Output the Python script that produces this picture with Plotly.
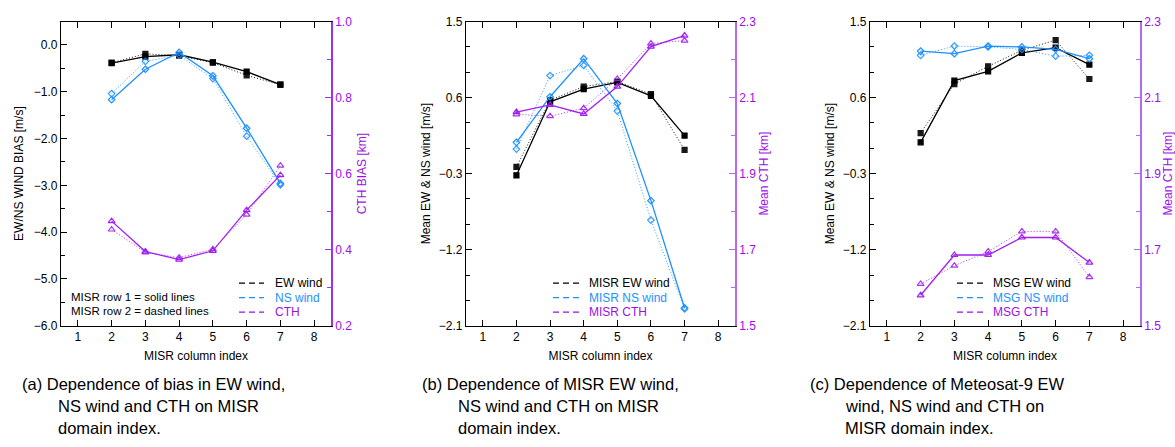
import plotly.graph_objects as go

# ---------------- data ----------------
columns = [2, 3, 4, 5, 6, 7]

a_ew_row1 = [-0.39, -0.25, -0.21, -0.37, -0.57, -0.85]
a_ew_row2 = [-0.38, -0.19, -0.23, -0.38, -0.65, -0.85]
a_ns_row1 = [-1.17, -0.52, -0.16, -0.66, -1.78, -2.96]
a_ns_row2 = [-1.04, -0.35, -0.22, -0.72, -1.95, -2.99]
a_cth_row1 = [0.475, 0.395, 0.374, 0.397, 0.504, 0.596]
a_cth_row2 = [0.453, 0.393, 0.379, 0.401, 0.492, 0.621]

b_ew_row1 = [-0.32, 0.55, 0.70, 0.78, 0.62, 0.15]
b_ew_row2 = [-0.22, 0.57, 0.73, 0.79, 0.64, -0.02]
b_ns_row1 = [0.07, 0.61, 1.06, 0.53, -0.62, -1.89]
b_ns_row2 = [-0.01, 0.86, 0.98, 0.44, -0.85, -1.90]
b_cth_row1 = [2.062, 2.081, 2.057, 2.129, 2.234, 2.263]
b_cth_row2 = [2.056, 2.051, 2.072, 2.149, 2.242, 2.250]

c_ew_row1 = [0.07, 0.80, 0.91, 1.13, 1.19, 0.99]
c_ew_row2 = [0.18, 0.76, 0.97, 1.16, 1.28, 0.82]
c_ns_row1 = [1.15, 1.12, 1.21, 1.20, 1.17, 1.06]
c_ns_row2 = [1.10, 1.21, 1.20, 1.17, 1.09, 1.10]
c_cth_row1 = [1.580, 1.686, 1.686, 1.732, 1.732, 1.666]
c_cth_row2 = [1.610, 1.658, 1.695, 1.748, 1.748, 1.628]

x_ticks = [1, 2, 3, 4, 5, 6, 7, 8]

legend_a = ["EW wind", "NS wind", "CTH"]
legend_b = ["MISR EW wind", "MISR NS wind", "MISR CTH"]
legend_c = ["MSG EW wind", "MSG NS wind", "MSG CTH"]

captions = [
    ["(a) Dependence of bias in EW wind,", "NS wind and CTH on MISR", "domain index."],
    ["(b) Dependence of MISR EW wind,", "NS wind and CTH on MISR", "domain index."],
    ["(c) Dependence of Meteosat-9 EW", "wind, NS wind and CTH on", "MISR domain index."],
]

# ---------------- style ----------------
W, H = 1175, 447
BLACK = "#000000"
BLUE = "#1E90FF"
PURPLE = "#A020F0"
PURPLE_TXT = "#9B10E6"
FONT = "Liberation Sans, Arial, sans-serif"
CAP_FONT = "Liberation Sans, Arial, sans-serif"
FS = 12

def px_x(p):
    return p / W

def px_y(p):
    return 1 - p / H

panels = [
    dict(x0=61, x1=331, xa="x", ya="y", ya2="y2",
         ew=(a_ew_row1, a_ew_row2), ns=(a_ns_row1, a_ns_row2), cth=(a_cth_row1, a_cth_row2),
         legend=legend_a, leg_x=(239, 264, 273)),
    dict(x0=466, x1=735, xa="x2", ya="y3", ya2="y4",
         ew=(b_ew_row1, b_ew_row2), ns=(b_ns_row1, b_ns_row2), cth=(b_cth_row1, b_cth_row2),
         legend=legend_b, leg_x=(553, 579, 587)),
    dict(x0=870, x1=1140, xa="x3", ya="y5", ya2="y6",
         ew=(c_ew_row1, c_ew_row2), ns=(c_ns_row1, c_ns_row2), cth=(c_cth_row1, c_cth_row2),
         legend=legend_c, leg_x=(957, 983, 991)),
]

fig = go.Figure()
shapes = []
annotations = []
leg_y = [285, 300, 315]

for p in panels:
    specs = [
        ("ew", BLACK, "square", 5, p["ya"]),
        ("ns", BLUE, "diamond-open", 5, p["ya"]),
        ("cth", PURPLE, "triangle-up-open", 6, p["ya2"]),
    ]
    for key, col, sym, ms, yref in specs:
        r1, r2 = p[key]
        fig.add_trace(go.Scatter(
            x=columns, y=r1, mode="lines+markers", xaxis=p["xa"], yaxis=yref,
            line=dict(color=col, width=1.3),
            marker=dict(symbol=sym, size=ms, color=col, line=dict(color=col, width=1.2)),
            showlegend=False))
        fig.add_trace(go.Scatter(
            x=columns, y=r2, mode="lines+markers", xaxis=p["xa"], yaxis=yref,
            line=dict(color=col, width=1, dash="1px,2px"),
            marker=dict(symbol=sym, size=ms, color=col, line=dict(color=col, width=1.2)),
            opacity=0.9, showlegend=False))
    # legend keys (decoration)
    lx0, lx1, tx = p["leg_x"]
    for name, col, ly in zip(p["legend"], [BLACK, BLUE, PURPLE_TXT], leg_y):
        shapes.append(dict(type="line", xref="paper", yref="paper",
                           x0=px_x(lx0), x1=px_x(lx1), y0=px_y(ly), y1=px_y(ly),
                           line=dict(color=col, width=1.2, dash="6px,4px")))
        annotations.append(dict(text=name, x=px_x(tx), y=px_y(ly), xref="paper", yref="paper",
                                xanchor="left", yanchor="middle", showarrow=False,
                                font=dict(family=FONT, size=FS, color=col)))

ydom = [px_y(329), px_y(15)]

common_x = dict(range=[0.5, 8.5], tickvals=x_ticks, ticks="inside", ticklen=6,
                tickcolor=BLACK, showline=True, linecolor=BLACK, linewidth=1.3,
                mirror="ticks", showgrid=False, zeroline=False,
                tickfont=dict(family=FONT, size=FS, color=BLACK),
                title=dict(text="MISR column index", font=dict(family=FONT, size=FS, color=BLACK),
                           standoff=8))

layout = dict(
    width=W, height=H, margin=dict(l=0, r=0, t=0, b=0),
    paper_bgcolor="white", plot_bgcolor="white",
    font=dict(family=FONT, size=FS, color=BLACK),
    showlegend=False,
)

for i, p in enumerate(panels):
    xname = "xaxis" if i == 0 else f"xaxis{i + 1}"
    layout[xname] = dict(common_x, domain=[px_x(p["x0"]), px_x(p["x1"])], anchor=p["ya"])

left_common = dict(domain=ydom, ticks="inside", ticklen=6, tickcolor=BLACK,
                   showline=True, linecolor=BLACK, linewidth=1.3, showgrid=False,
                   zeroline=False, tickformat=".1f",
                   tickfont=dict(family=FONT, size=FS, color=BLACK))
right_common = dict(domain=ydom, ticks="inside", ticklen=6, side="right",
                    showline=True, linewidth=1.5, showgrid=False, zeroline=False,
                    tickformat=".1f")

layout["yaxis"] = dict(left_common, anchor="x", range=[-6.0, 0.5], tick0=0, dtick=1.0,
                       minor=dict(ticks="inside", ticklen=4, dtick=0.5, tick0=0, tickcolor=BLACK),
                       title=dict(text="EW/NS WIND BIAS [m/s]", font=dict(size=FS), standoff=7))
layout["yaxis2"] = dict(right_common, anchor="x", overlaying="y", range=[0.2, 1.0], tick0=0.2, dtick=0.2,
                        linecolor="#A030F0", tickcolor="#A030F0",
                        minor=dict(ticks="inside", ticklen=4, dtick=0.1, tick0=0.2, tickcolor="#A030F0"),
                        tickfont=dict(family=FONT, size=FS, color=PURPLE_TXT),
                        title=dict(text="CTH BIAS [km]", font=dict(size=FS, color=PURPLE_TXT), standoff=6))

for i, (ly, ry, xa) in enumerate([("yaxis3", "yaxis4", "x2"), ("yaxis5", "yaxis6", "x3")]):
    lname = "y3" if i == 0 else "y5"
    layout[ly] = dict(left_common, anchor=xa, range=[-2.1, 1.5], tick0=-2.1, dtick=0.9,
                      minor=dict(ticks="inside", ticklen=4, dtick=0.3, tick0=-2.1, tickcolor=BLACK),
                      title=dict(text="Mean EW & NS wind [m/s]", font=dict(size=FS), standoff=5))
    layout[ry] = dict(right_common, anchor=xa, overlaying=lname, range=[1.5, 2.3], tick0=1.5, dtick=0.2,
                      linecolor="#B56AEA", tickcolor="#B56AEA",
                      minor=dict(ticks="inside", ticklen=4, dtick=0.1, tick0=1.5, tickcolor="#B56AEA"),
                      tickfont=dict(family=FONT, size=FS, color=PURPLE_TXT),
                      title=dict(text="Mean CTH [km]", font=dict(size=FS, color=PURPLE_TXT), standoff=4))

annotations += [
    dict(text="MISR row 1 = solid lines", x=px_x(69), y=px_y(299), xref="paper", yref="paper",
         xanchor="left", yanchor="middle", showarrow=False, font=dict(family=FONT, size=FS - 0.5, color=BLACK)),
    dict(text="MISR row 2 = dashed lines", x=px_x(69), y=px_y(314), xref="paper", yref="paper",
         xanchor="left", yanchor="middle", showarrow=False, font=dict(family=FONT, size=FS - 0.5, color=BLACK)),
]

cap_x = [(20, 56), (420, 456), (808, 843)]
cap_y = [389, 412, 435]
for (x1, x2), lines in zip(cap_x, captions):
    for j, line in enumerate(lines):
        annotations.append(dict(
            text=line, x=px_x(x1 if j == 0 else x2), y=px_y(cap_y[j]), xref="paper", yref="paper",
            xanchor="left", yanchor="middle", showarrow=False,
            font=dict(family=CAP_FONT, size=16.5, color=BLACK)))

layout["annotations"] = annotations
layout["shapes"] = shapes
fig.update_layout(**layout)

fig.write_html("out.html")
